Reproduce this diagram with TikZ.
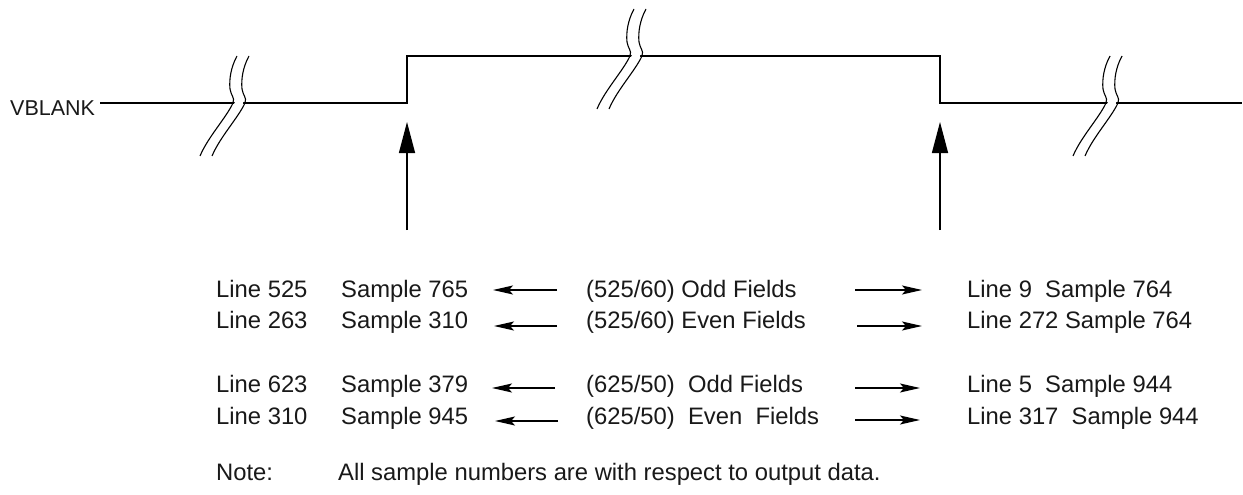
\documentclass[tikz,border=0pt]{standalone}
\usepackage{fontspec}
\setmainfont{Liberation Sans}
\usetikzlibrary{arrows.meta}
\newcommand\brkcurve[1]{(#1+5,-47) .. controls (#1-1,-36) and (#1-3,-24) .. (#1-2,-14) .. controls (#1-1,-7) and (#1+3,-6) .. (#1+1,0) .. controls (#1-6,15) and (#1-24,34) .. (#1-32,53)}
\definecolor{inkc}{rgb}{0.1,0.1,0.1}
\tikzset{
  brk/.pic={
    \draw[white, line width=8pt] \brkcurve{6};
    \draw[brkline] \brkcurve{0};
    \draw[brkline] \brkcurve{12};
  }
}
\begin{document}
\begin{tikzpicture}[x=1pt,y=-1pt,
  txt/.style={anchor=base west, inner sep=0pt, text=inkc, font=\fontsize{23.8}{28}\selectfont},
  lbl/.style={anchor=base west, inner sep=0pt, text=inkc, font=\fontsize{21.5}{26}\selectfont},
  wave/.style={line width=1.6pt, line join=miter},
  brkline/.style={line width=1.1pt},
  uparrow/.style={line width=1.4pt, -{Triangle[length=31pt,width=16pt]}},
  harrow/.style={line width=1.4pt, -{Stealth[length=20pt,width=9pt,inset=4pt]}},
]
\useasboundingbox (0,0) rectangle (1243,495);
\fill[white] (0,0) rectangle (1243,495);

% waveform
\node[lbl] (vb) at (10,115) {VBLANK};
\coordinate (w0) at (100,103);
\coordinate (w1) at (407,103);
\coordinate (w2) at (407,56);
\coordinate (w3) at (940,56);
\coordinate (w4) at (940,103);
\coordinate (w5) at (1242,103);
\draw[wave] (w0) -- (w1) -- (w2) -- (w3) -- (w4) -- (w5);

% break marks
\pic at (232,103) {brk};
\pic at (629,56) {brk};
\pic at (1105,103) {brk};

% vertical arrows
\coordinate (ua1b) at (407,230);
\coordinate (ua1t) at (407,122);
\coordinate (ua2b) at (940,230);
\coordinate (ua2t) at (940,122);
\draw[uparrow] (ua1b) -- (ua1t);
\draw[uparrow] (ua2b) -- (ua2t);

% text rows
\node[txt] (l1) at (216,297) {Line 525};
\node[txt] (s1) at (341,297) {Sample 765};
\node[txt] (m1) at (586,297) {(525/60) Odd Fields};
\node[txt] (r1) at (967,297) {Line 9\ \ Sample 764};

\node[txt] (l2) at (216,328) {Line 263};
\node[txt] (s2) at (341,328) {Sample 310};
\node[txt] (m2) at (586,328) {(525/60) Even Fields};
\node[txt] (r2) at (967,328) {Line 272 Sample 764};

\node[txt] (l3) at (216,392) {Line 623};
\node[txt] (s3) at (341,392) {Sample 379};
\node[txt] (m3) at (586,392) {(625/50)\ \ Odd Fields};
\node[txt] (r3) at (967,392) {Line 5\ \ Sample 944};

\node[txt] (l4) at (216,424) {Line 310};
\node[txt] (s4) at (341,424) {Sample 945};
\node[txt] (m4) at (586,424) {(625/50)\ \ Even\ \ Fields};
\node[txt] (r4) at (967,424) {Line 317\ \ Sample 944};

\node[txt] (nt) at (216,480) {Note:};
\node[txt] (nb) at (338,480) {All sample numbers are with respect to output data.};

% horizontal arrows
\coordinate (la1s) at (557,290); \coordinate (la1e) at (493,290);
\coordinate (la2s) at (557,326); \coordinate (la2e) at (494,326);
\coordinate (la3s) at (555,388); \coordinate (la3e) at (492,388);
\coordinate (la4s) at (558,421); \coordinate (la4e) at (495,421);
\draw[harrow] (la1s) -- (la1e);
\draw[harrow] (la2s) -- (la2e);
\draw[harrow] (la3s) -- (la3e);
\draw[harrow] (la4s) -- (la4e);

\coordinate (ra1s) at (855,290); \coordinate (ra1e) at (922,290);
\coordinate (ra2s) at (857,326); \coordinate (ra2e) at (922,326);
\coordinate (ra3s) at (855,388); \coordinate (ra3e) at (920,388);
\coordinate (ra4s) at (855,420); \coordinate (ra4e) at (920,420);
\draw[harrow] (ra1s) -- (ra1e);
\draw[harrow] (ra2s) -- (ra2e);
\draw[harrow] (ra3s) -- (ra3e);
\draw[harrow] (ra4s) -- (ra4e);
\end{tikzpicture}
\end{document}
